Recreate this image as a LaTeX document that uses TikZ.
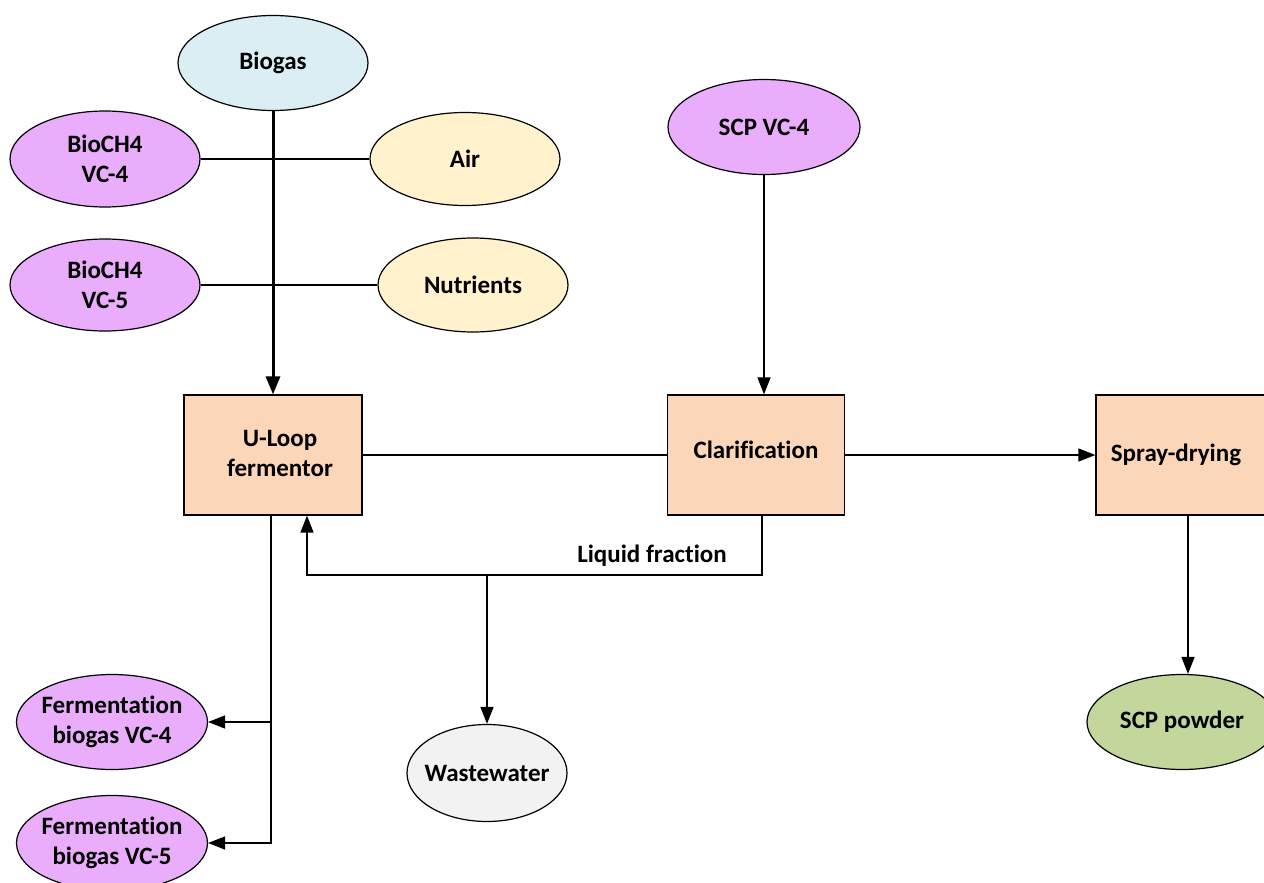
\documentclass[tikz,border=0pt]{standalone}
\usepackage{fontspec}
\setmainfont{Carlito}[Ligatures=NoCommon]
\usetikzlibrary{shapes.geometric,arrows.meta}
\definecolor{bluefill}{HTML}{DAEEF3}
\definecolor{violetfill}{HTML}{EAADFB}
\definecolor{creamfill}{HTML}{FFF2CC}
\definecolor{peachfill}{HTML}{FBD6B8}
\definecolor{greyfill}{HTML}{F2F2F2}
\definecolor{greenfill}{HTML}{C3D69B}
\tikzset{
  every node/.style={font=\fontsize{25}{30}\selectfont\bfseries},
  oval/.style={ellipse, draw=black, line width=1.2pt, inner xsep=-35pt, inner ysep=-12pt,
    minimum width=190pt, minimum height=95pt, align=center},
  unit/.style={rectangle, draw=black, line width=1.2pt, fill=peachfill,
    minimum width=178pt, minimum height=120pt, align=center},
  link/.style={line width=1.3pt},
  arr/.style={link, -{Triangle[length=17pt,width=13pt]}},
  mainarr/.style={line width=3pt, -{Triangle[length=18pt,width=14pt]}}
}
\begin{document}
\begin{tikzpicture}[x=1pt,y=-1pt]
\useasboundingbox (0,0) rectangle (1264,883);
\clip (0,0) rectangle (1264,883);
\fill[white] (0,0) rectangle (1264,883);

% feed streams
\node[oval, fill=bluefill] (biogas) at (273,63) {Biogas};
\node[oval, fill=violetfill, minimum height=96pt] (bio4) at (105,159) {BioCH4\\VC-4};
\node[oval, fill=creamfill, minimum height=93pt] (air) at (465,159) {Air};
\node[oval, fill=violetfill, minimum height=92pt] (bio5) at (105,285) {BioCH4\\VC-5};
\node[oval, fill=creamfill, minimum height=94pt] (nutr) at (473,285) {Nutrients};
\node[oval, fill=violetfill, minimum width=192pt] (scp4) at (764,127) {SCP VC-4};

% process units
\node[unit] (uloop) at (273,455) {\raisebox{6pt}{\begin{tabular}{@{}c@{}}\hspace{14pt}U-Loop\\\hspace{14pt}fermentor\end{tabular}}};
\node[unit, minimum width=177pt] (clar) at (756,455) {\raisebox{10pt}{Clarification}};
\node[unit] (spray) at (1185,455) {\hspace{-18pt}Spray-drying};

% products
\node[oval, fill=violetfill, minimum width=191pt] (ferm4) at (112,722) {Fermentation\\biogas VC-4};
\node[oval, fill=violetfill, minimum width=191pt] (ferm5) at (112,843) {Fermentation\\biogas VC-5};
\node[oval, fill=greyfill, minimum width=160pt, minimum height=97pt] (waste) at (487,773) {Wastewater};
\node[oval, fill=greenfill] (scpp) at (1182,722) {SCP powder};

% feed lines
\draw[link] (bio4.east) -- (air.west);
\draw[link] (bio5.east) -- (nutr.west);
\draw[mainarr] (biogas.south) -- (uloop.north);
\draw[arr] (scp4.south) -- (scp4.south |- clar.north);

% main process line
\draw[link] (uloop.east) -- (clar.west);
\draw[arr] (clar.east) -- (spray.west);
\coordinate (dryout) at ([xshift=3pt]spray.south);
\draw[arr] (dryout) -- (dryout |- scpp.north);

% liquid fraction recycle
\coordinate (clarout) at ([xshift=6pt]clar.south);
\coordinate (split) at (487,575);
\coordinate (ret) at ([xshift=34pt]uloop.south);
\draw[arr] (clarout) |- (split) -| (ret);
\draw[arr] (split) -- (waste.north);
\node (lf) at (652,556) {Liquid fraction};

% fermentation off-gas
\coordinate (gas) at ([xshift=-2pt]uloop.south);
\draw[arr] (gas) |- (ferm4.east);
\draw[arr] (gas) |- (ferm5.east);
\end{tikzpicture}
\end{document}
